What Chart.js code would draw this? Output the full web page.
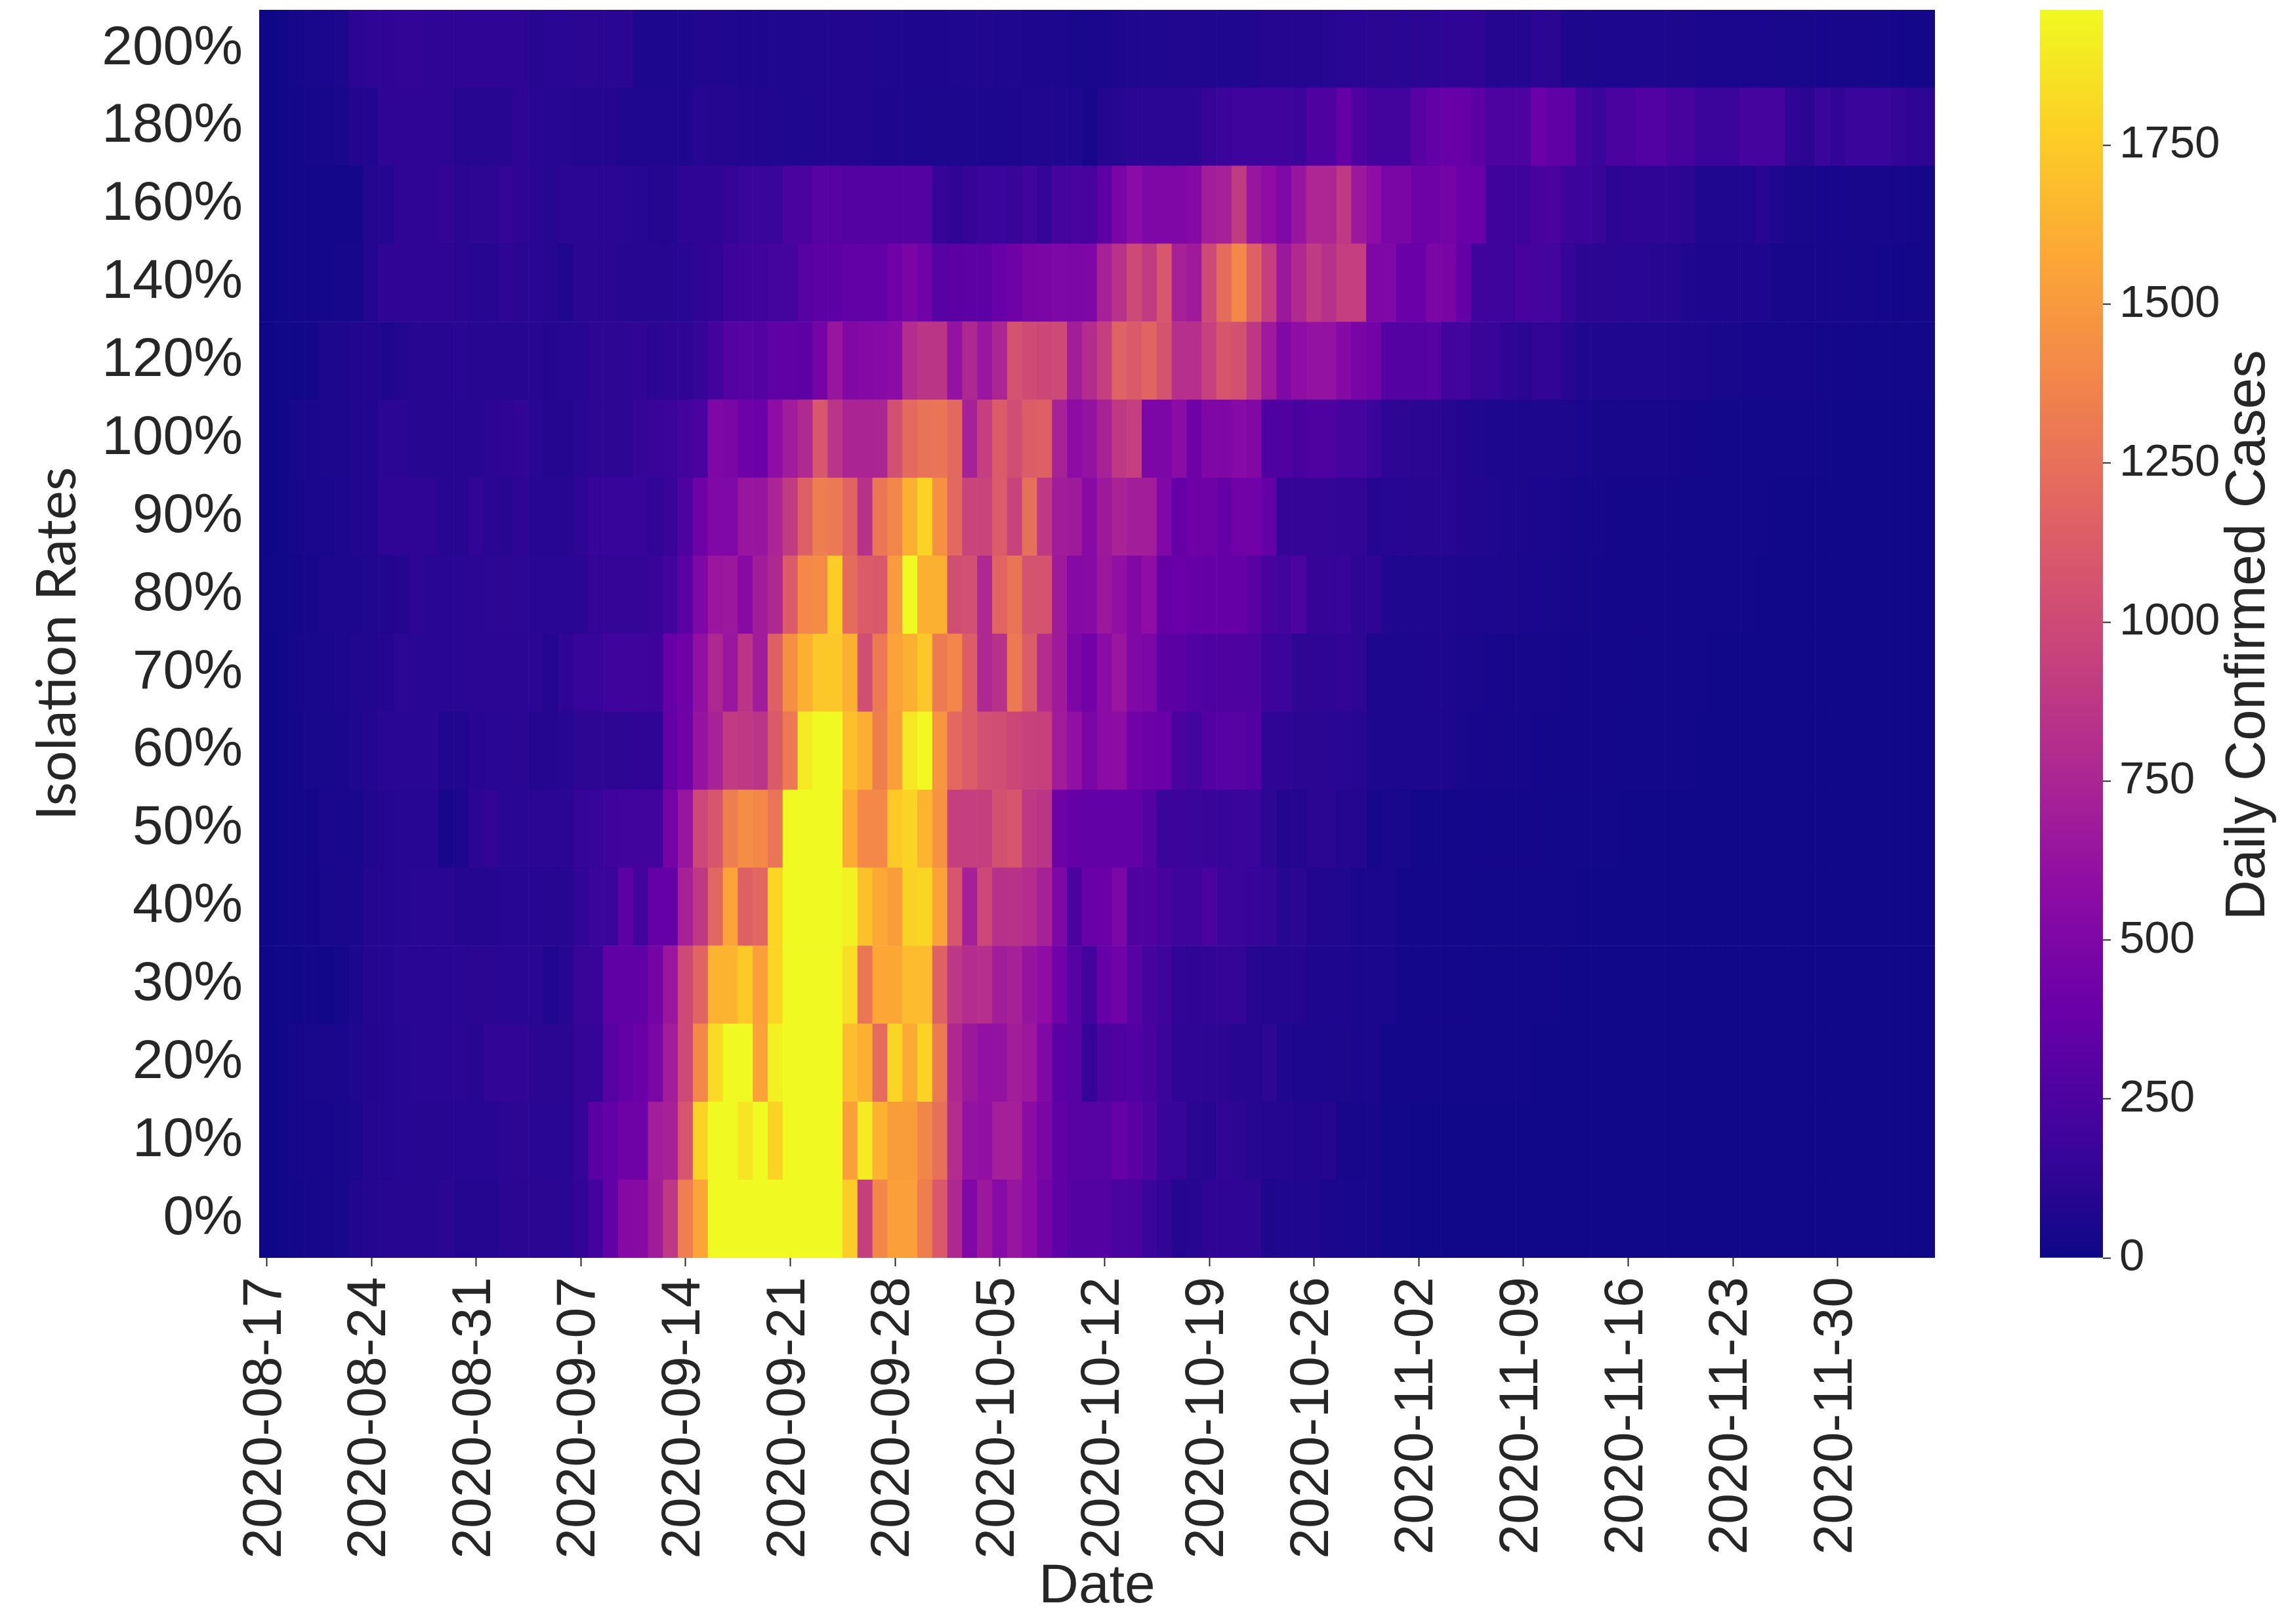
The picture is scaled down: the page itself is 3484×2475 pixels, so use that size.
<!DOCTYPE html>
<html>
<head>
<meta charset="utf-8">
<style>
html,body{margin:0;padding:0;background:#fff;width:3484px;height:2475px;overflow:hidden}
#main{position:absolute;left:0;top:0}
#bar{position:absolute;left:3000px;top:0}
</style>
<script src="https://cdn.jsdelivr.net/npm/chart.js@4"></script>
</head>
<body>
<canvas id="main" width="3484" height="2475"></canvas>
<canvas id="bar" width="484" height="2475"></canvas>
<script>
const dates = [
"2020-08-17","2020-08-18","2020-08-19","2020-08-20","2020-08-21","2020-08-22","2020-08-23",
"2020-08-24","2020-08-25","2020-08-26","2020-08-27","2020-08-28","2020-08-29","2020-08-30",
"2020-08-31","2020-09-01","2020-09-02","2020-09-03","2020-09-04","2020-09-05","2020-09-06",
"2020-09-07","2020-09-08","2020-09-09","2020-09-10","2020-09-11","2020-09-12","2020-09-13",
"2020-09-14","2020-09-15","2020-09-16","2020-09-17","2020-09-18","2020-09-19","2020-09-20",
"2020-09-21","2020-09-22","2020-09-23","2020-09-24","2020-09-25","2020-09-26","2020-09-27",
"2020-09-28","2020-09-29","2020-09-30","2020-10-01","2020-10-02","2020-10-03","2020-10-04",
"2020-10-05","2020-10-06","2020-10-07","2020-10-08","2020-10-09","2020-10-10","2020-10-11",
"2020-10-12","2020-10-13","2020-10-14","2020-10-15","2020-10-16","2020-10-17","2020-10-18",
"2020-10-19","2020-10-20","2020-10-21","2020-10-22","2020-10-23","2020-10-24","2020-10-25",
"2020-10-26","2020-10-27","2020-10-28","2020-10-29","2020-10-30","2020-10-31","2020-11-01",
"2020-11-02","2020-11-03","2020-11-04","2020-11-05","2020-11-06","2020-11-07","2020-11-08",
"2020-11-09","2020-11-10","2020-11-11","2020-11-12","2020-11-13","2020-11-14","2020-11-15",
"2020-11-16","2020-11-17","2020-11-18","2020-11-19","2020-11-20","2020-11-21","2020-11-22",
"2020-11-23","2020-11-24","2020-11-25","2020-11-26","2020-11-27","2020-11-28","2020-11-29",
"2020-11-30","2020-12-01","2020-12-02","2020-12-03","2020-12-04","2020-12-05","2020-12-06"];
const tickDates = ["2020-08-17","2020-08-24","2020-08-31","2020-09-07","2020-09-14","2020-09-21","2020-09-28","2020-10-05","2020-10-12","2020-10-19","2020-10-26","2020-11-02","2020-11-09","2020-11-16","2020-11-23","2020-11-30"];
const rowLabels = ["0%","10%","20%","30%","40%","50%","60%","70%","80%","90%","100%","120%","140%","160%","180%","200%"];
const colorbarTicks = [0,250,500,750,1000,1250,1500,1750];
const colorMax = 1963;
const plasma = ["#0d0887","#41049d","#6a00a8","#8f0da4","#b12a90","#cc4778","#e16462","#f2844b","#fca636","#fcce25","#f0f921"];

const r0 = [5,12,30,35,40,45,75,85,100,100,100,100,110,90,90,90,110,110,110,110,105,140,200,350,530,550,690,880,1335,1560,1963,1963,1963,1963,1963,1963,1963,1963,1963,1760,930,1390,1530,1530,1340,1100,770,510,660,540,640,560,450,340,290,290,290,240,240,170,140,90,100,130,130,125,120,55,70,70,70,50,50,45,40,20,18,16,15,15,15,14,14,14,13,13,13,13,12,12,12,12,12,12,12,12,12,12,12,12,12,12,12,12,12,12,12,12,12,12,12,12];
const r10 = [5,12,35,40,42,45,60,85,85,95,98,100,98,95,95,95,115,120,105,105,105,150,320,350,420,420,700,720,1080,1790,1963,1963,1870,1963,1790,1963,1963,1963,1963,1530,1900,1630,1520,1520,1380,1250,800,620,600,710,710,560,480,340,310,300,300,380,320,260,160,160,110,100,140,120,100,90,85,80,75,85,40,40,40,20,18,16,15,15,16,16,15,15,14,14,14,13,13,13,12,12,12,12,12,12,12,12,12,12,12,12,12,12,12,12,12,12,12,12,12,12];
const r20 = [5,12,40,45,48,50,70,80,85,95,105,105,105,115,100,135,135,135,110,110,110,150,150,300,350,400,480,700,1000,1400,1820,1963,1963,1550,1920,1963,1963,1963,1963,1690,1620,1220,1800,1590,1790,1320,770,660,610,620,700,660,510,320,300,150,240,270,280,230,170,130,130,120,120,100,100,120,70,60,60,55,55,50,50,30,28,25,22,20,22,22,20,18,18,16,16,15,15,14,14,13,13,13,12,12,12,12,12,12,12,12,12,12,12,12,12,12,12,12,12,12];
const r30 = [5,15,10,30,10,35,60,85,85,105,105,105,105,105,110,110,105,105,105,70,95,165,165,340,340,340,450,650,1000,1180,1640,1640,1740,1530,1800,1963,1963,1963,1963,1840,1290,1570,1570,1680,1680,1160,870,800,820,700,720,630,590,430,300,200,380,430,300,220,190,135,130,140,150,150,100,90,90,90,65,65,65,50,50,50,30,28,25,25,25,24,22,20,20,18,18,16,16,15,15,14,14,14,13,13,13,12,12,12,12,12,12,12,12,12,12,12,12,12,12,12];
const r40 = [5,12,25,30,45,48,50,85,90,95,105,105,105,90,90,85,95,95,95,100,100,135,170,170,330,205,370,370,720,880,1190,1550,1150,1190,1800,1963,1963,1963,1963,1930,1700,1580,1520,1780,1800,1550,1080,710,990,830,840,800,720,500,240,400,400,490,270,270,230,190,190,240,180,170,160,150,100,110,80,75,70,50,50,50,30,28,25,25,25,24,22,22,20,20,18,18,16,16,15,15,14,14,14,13,13,13,12,12,12,12,12,12,12,12,12,12,12,12,12,12];
const r50 = [5,10,25,30,50,50,45,75,85,95,95,95,40,60,115,145,105,105,115,115,115,150,160,190,195,205,195,450,640,990,1085,1330,1430,1400,1280,1963,1963,1963,1963,1600,1400,1400,1740,1790,1640,1460,930,920,930,1050,1080,880,860,420,370,350,350,350,350,290,170,180,170,165,160,170,170,120,80,85,110,110,85,85,40,50,45,20,20,25,30,32,30,28,25,25,22,20,20,18,18,16,16,15,15,14,14,13,13,13,13,13,13,13,12,12,12,12,12,12,12,12];
const r60 = [5,12,30,45,45,50,70,85,105,105,105,105,75,75,95,105,105,110,90,85,95,120,120,120,120,125,125,350,430,630,730,900,880,850,1110,1300,1900,1963,1963,1700,1610,1340,1530,1880,1963,1480,1200,1130,1040,1020,980,945,935,690,600,480,560,580,430,410,400,240,210,280,300,300,280,130,130,110,110,105,105,100,60,60,60,60,60,65,45,42,40,38,35,32,30,28,26,25,24,22,20,20,18,18,16,16,15,15,14,14,14,14,13,13,13,13,13,13,13,13];
const r70 = [5,15,40,45,50,60,70,75,90,118,105,105,105,105,115,115,115,115,115,85,130,160,160,190,190,190,180,380,420,600,770,650,850,690,1150,1440,1620,1730,1730,1620,1020,1300,1550,1620,1730,1310,1390,1130,770,830,1300,1130,800,680,490,430,560,650,510,490,320,320,280,270,270,270,250,180,180,120,130,130,140,120,60,60,60,60,65,60,50,48,42,40,38,35,35,30,28,26,25,24,22,20,20,18,18,16,16,15,15,14,14,14,14,13,13,13,13,13,13,13];
const r80 = [10,12,30,40,60,60,60,75,75,85,125,105,105,105,115,118,120,118,105,105,105,115,150,150,150,150,165,200,320,500,650,660,550,690,770,1120,1400,1420,1760,1220,1120,1100,1500,1963,1620,1620,1030,1040,770,1180,1280,1060,1060,680,530,550,660,600,520,590,370,390,370,370,370,370,310,230,200,250,155,155,160,120,130,70,70,70,70,70,65,60,58,55,52,50,45,40,35,32,30,30,28,25,25,22,20,20,18,18,16,16,15,15,14,14,14,14,14,14,14,14];
const r90 = [5,15,40,50,50,60,75,80,125,125,125,125,100,100,135,115,100,130,95,95,100,125,160,160,160,160,145,165,260,420,510,510,640,640,750,900,1150,1330,1300,1180,830,1290,1380,1620,1790,1450,1200,960,960,1120,950,1250,880,690,680,550,670,740,700,700,510,370,420,420,370,430,430,370,150,150,150,150,145,145,90,95,95,100,100,95,80,75,70,60,55,50,50,40,38,35,30,28,28,26,25,22,22,20,20,18,18,16,16,15,15,14,14,14,14,14,14,14];
const r100 = [5,10,45,50,55,55,75,80,115,115,100,100,100,100,100,115,125,135,105,85,90,105,120,120,120,150,165,175,200,240,500,480,420,400,590,690,780,1090,850,745,745,750,1050,1210,1270,1280,1200,720,920,1120,1020,1130,1150,730,580,620,730,880,920,490,490,570,420,500,500,540,520,270,270,230,270,270,220,220,170,130,120,110,110,100,80,70,60,58,56,55,55,55,52,40,40,40,40,40,40,25,25,22,22,20,20,20,18,18,18,16,16,15,15,15,15,15];
const r120 = [5,10,15,20,55,55,80,80,65,80,100,100,100,105,100,100,100,100,100,85,95,95,120,120,120,135,110,125,125,150,200,290,300,290,340,340,330,450,640,520,530,540,560,800,860,860,620,770,650,750,1060,1010,980,1000,700,800,920,1170,1110,1180,1060,820,820,940,1080,1050,870,680,520,590,620,620,530,470,440,290,290,290,300,200,210,165,160,130,110,140,140,100,72,72,72,70,70,70,70,55,55,45,45,42,40,38,35,35,25,25,25,22,22,20,20,20];
const r140 = [5,10,28,30,32,35,35,85,125,125,125,125,125,110,95,100,125,110,105,100,70,110,110,110,100,100,100,100,105,130,140,180,190,200,210,220,300,330,330,350,350,350,430,470,430,300,320,330,330,380,420,470,480,500,490,500,720,840,1000,900,1090,720,680,1000,1220,1400,1160,930,660,780,900,830,920,920,500,510,390,390,480,470,370,190,190,190,230,220,210,150,110,110,110,105,105,100,100,70,65,65,65,65,65,40,40,40,40,40,35,35,32,32,30,30];
const r160 = [5,10,25,28,28,30,30,85,85,125,125,125,140,110,120,120,150,125,115,100,115,115,115,115,105,95,90,85,125,125,125,150,170,170,170,240,240,300,300,290,290,290,290,290,290,150,130,150,170,170,165,195,150,215,235,230,330,470,560,500,500,500,530,700,720,900,640,590,510,640,760,760,880,660,590,480,480,420,420,450,390,390,190,190,190,230,240,180,180,165,110,130,130,130,130,110,70,70,70,70,95,70,45,45,42,42,40,40,40,40,38,25];
const r180 = [5,10,25,35,40,45,80,80,125,125,125,125,120,100,100,100,100,130,105,95,100,90,90,90,70,70,70,70,70,95,85,85,80,75,75,70,70,75,80,80,75,65,65,60,60,55,55,60,60,62,65,70,75,70,70,35,90,100,115,115,115,115,115,155,175,185,185,190,190,175,260,260,370,270,200,200,200,310,350,385,385,320,250,250,250,400,340,340,200,170,240,240,280,280,230,230,175,175,175,220,220,220,130,110,170,140,170,170,170,150,130,120];
const r200 = [5,10,35,45,50,55,115,125,125,135,140,130,125,125,125,130,130,125,100,105,105,110,110,105,110,60,60,60,60,75,80,70,65,65,70,70,75,75,80,80,75,68,68,65,65,66,68,70,75,70,70,65,60,60,45,50,50,65,70,72,72,75,75,72,70,72,75,90,90,92,90,100,105,105,108,110,105,110,115,130,130,125,90,90,90,115,110,55,55,58,60,62,60,58,55,55,52,50,50,50,50,48,45,45,42,40,40,38,35,32,30,28];
const rows = [r0,r10,r20,r30,r40,r50,r60,r70,r80,r90,r100,r120,r140,r160,r180,r200];

const TEXT = "#262626";
const SANS = "'Liberation Sans', Arial, sans-serif";

function hexRgb(h){ return [1,3,5].map(i => parseInt(h.slice(i,i+2),16)); }
function heatColor(v){
  const t = Math.min(1, Math.max(0, v / colorMax)) * (plasma.length - 1);
  const i = Math.min(plasma.length - 2, Math.floor(t));
  const a = hexRgb(plasma[i]), b = hexRgb(plasma[i+1]), f = t - i;
  return "rgb(" + a.map((c,k) => Math.round(c + (b[k]-c)*f)).join(",") + ")";
}

function rotatedTitle(id, text, x, y, font) {
  return {
    id,
    afterDraw(chart) {
      const c = chart.ctx;
      c.save();
      c.translate(x, y);
      c.rotate(-Math.PI / 2);
      c.font = font;
      c.fillStyle = TEXT;
      c.textAlign = "center";
      c.textBaseline = "alphabetic";
      c.fillText(text, 0, 0);
      c.restore();
    }
  };
}

new Chart(document.getElementById("main"), {
  type: "bar",
  plugins: [rotatedTitle("yTitle", "Isolation Rates", 115, 981, "84px Lato")],
  data: {
    labels: dates,
    datasets: rows.map((row, r) => ({
      label: rowLabels[r],
      data: row.map(() => [r, r + 1]),
      backgroundColor: row.map(heatColor),
      borderWidth: 0,
      grouped: false,
      barPercentage: 1,
      categoryPercentage: 1
    }))
  },
  options: {
    responsive: false,
    animation: false,
    devicePixelRatio: 1,
    layout: { padding: { left: 0, top: 15, right: 535, bottom: 0 } },
    plugins: { legend: { display: false }, tooltip: { enabled: false } },
    scales: {
      x: {
        type: "category",
        afterBuildTicks: s => { s.ticks = s.ticks.filter(t => tickDates.includes(dates[t.value])); },
        afterFit: s => { s.height = 558; s.paddingLeft = 0; s.paddingRight = 0; },
        grid: { offset: false, drawOnChartArea: false, drawTicks: true, tickLength: 13, tickWidth: 2, tickColor: TEXT },
        border: { display: false },
        ticks: { autoSkip: false, minRotation: 90, maxRotation: 90, padding: 16, labelOffset: -2, color: TEXT, font: { family: SANS, size: 84 } },
        title: { display: true, text: "Date", color: TEXT, font: { family: SANS, size: 84 }, padding: { top: 0, bottom: 6 } }
      },
      y: {
        type: "linear",
        min: 0,
        max: rowLabels.length,
        afterBuildTicks: s => { s.ticks = rowLabels.map((_, i) => ({ value: i + 0.5 })); },
        afterFit: s => { s.width = 395; s.paddingTop = 0; s.paddingBottom = 0; },
        grid: { display: false, drawTicks: false },
        border: { display: false },
        ticks: { autoSkip: false, padding: 25, color: TEXT, font: { family: SANS, size: 84 }, callback: v => rowLabels[v - 0.5] }
      }
    }
  }
});

new Chart(document.getElementById("bar"), {
  type: "bar",
  plugins: [rotatedTitle("colorbarTitle", "Daily Confirmed Cases", 451, 968, "85px " + SANS)],
  data: {
    labels: ["Daily Confirmed Cases"],
    datasets: [{
      data: [colorMax],
      borderWidth: 0,
      barPercentage: 1,
      categoryPercentage: 1,
      backgroundColor: ctx => {
        const a = ctx.chart.chartArea;
        if (!a) return plasma[0];
        const g = ctx.chart.ctx.createLinearGradient(0, a.bottom, 0, a.top);
        plasma.forEach((col, i) => g.addColorStop(i / (plasma.length - 1), col));
        return g;
      }
    }]
  },
  options: {
    responsive: false,
    animation: false,
    devicePixelRatio: 1,
    layout: { padding: { left: 109, top: 15, right: 0, bottom: 558 } },
    plugins: { legend: { display: false }, tooltip: { enabled: false } },
    scales: {
      x: { display: false },
      y: {
        position: "right",
        min: 0,
        max: colorMax,
        afterBuildTicks: s => { s.ticks = colorbarTicks.map(v => ({ value: v })); },
        afterFit: s => { s.width = 279; s.paddingTop = 0; s.paddingBottom = 0; },
        grid: { drawOnChartArea: false, drawTicks: true, tickLength: 12, tickWidth: 2, tickColor: TEXT },
        border: { display: false },
        ticks: { autoSkip: false, padding: 13, color: TEXT, font: { family: SANS, size: 69 }, callback: v => String(v) }
      }
    }
  }
});
</script>
</body>
</html>
